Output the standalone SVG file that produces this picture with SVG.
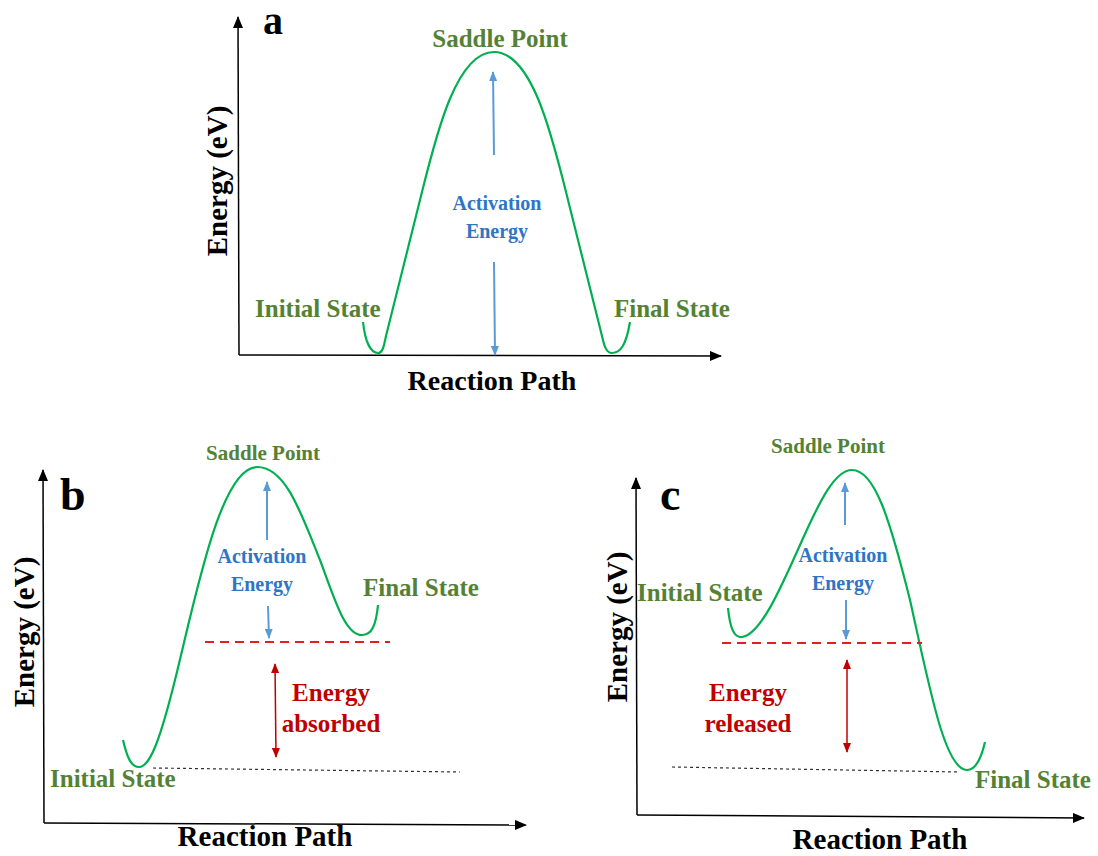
<svg xmlns="http://www.w3.org/2000/svg" width="1098" height="856" viewBox="0 0 1098 856">
<defs>
<style>
text{font-family:"Liberation Serif","Times New Roman",serif;font-weight:bold}
.g{fill:#548235}
.bl{fill:#2e75c6}
.rd{fill:#c00000}
.k{fill:#000}
.axis{stroke:#000;stroke-width:1.5;fill:none}
.curve{stroke:#00b050;stroke-width:2.2;fill:none}
.ba{stroke:#5b9bd5;stroke-width:2;fill:none}
.ra{stroke:#c00000;stroke-width:1.5;fill:none}
.rdash{stroke:#e02020;stroke-width:2;stroke-dasharray:9,6;fill:none}
.kdot{stroke:#333;stroke-width:1.2;stroke-dasharray:3,3;fill:none}
</style>
<marker id="ax" viewBox="0 0 12 10" refX="11" refY="5" markerWidth="12" markerHeight="10" markerUnits="userSpaceOnUse" orient="auto"><path d="M0,0 L12,5 L0,10 z" fill="#000"/></marker>
<marker id="bh" viewBox="0 0 10 8" refX="9" refY="4" markerWidth="10" markerHeight="8" markerUnits="userSpaceOnUse" orient="auto"><path d="M0,0 L10,4 L0,8 z" fill="#5b9bd5"/></marker>
<marker id="rh" viewBox="0 0 10 8" refX="9" refY="4" markerWidth="10" markerHeight="8" markerUnits="userSpaceOnUse" orient="auto-start-reverse"><path d="M0,0 L10,4 L0,8 z" fill="#c00000"/></marker>
</defs>

<g id="panel-a">
<line class="axis" x1="239" y1="355" x2="238" y2="17" marker-end="url(#ax)"/>
<line class="axis" x1="239" y1="355" x2="721" y2="356" marker-end="url(#ax)"/>
<text class="k" x="263" y="34" font-size="40">a</text>
<text class="k" transform="translate(227,181) rotate(-90)" text-anchor="middle" font-size="29">Energy (eV)</text>
<text class="k" x="492" y="390" text-anchor="middle" font-size="28">Reaction Path</text>
<path class="curve" d="M363,322 C365,340 370,353 378,353 C383,353 384,345 386,336 C395,300 405,260 420,200 C435,140 455,52 494,52 C533,52 553,140 568,200 C583,260 593,300 602,336 C604,345 606,353 612,353 C620,353 626,346 630,322"/>
<text class="g" x="500" y="47" text-anchor="middle" font-size="25">Saddle Point</text>
<text class="g" x="255" y="317" font-size="25">Initial State</text>
<text class="g" x="614" y="317" font-size="25">Final State</text>
<line class="ba" x1="494" y1="155" x2="493" y2="72" marker-end="url(#bh)"/>
<line class="ba" x1="494" y1="262" x2="495" y2="355" marker-end="url(#bh)"/>
<text class="bl" x="497" y="210" text-anchor="middle" font-size="20">Activation</text>
<text class="bl" x="497" y="238" text-anchor="middle" font-size="20">Energy</text>
</g>

<g id="panel-b">
<line class="axis" x1="44" y1="823" x2="43" y2="470" marker-end="url(#ax)"/>
<line class="axis" x1="44" y1="823" x2="526" y2="825" marker-end="url(#ax)"/>
<text class="k" x="60" y="510" font-size="46">b</text>
<text class="k" transform="translate(34,632) rotate(-90)" text-anchor="middle" font-size="29">Energy (eV)</text>
<text class="k" x="265" y="846" text-anchor="middle" font-size="29">Reaction Path</text>
<path class="curve" d="M123,740 C127,757 131,767 139,767 C150,767 160,740 175,680 C195,600 220,467 257,467 C285,467 300,510 320,560 C335,600 345,635 362,635 C372,635 376,625 378,605"/>
<text class="g" x="263" y="460" text-anchor="middle" font-size="21">Saddle Point</text>
<text class="g" x="363" y="596" font-size="25">Final State</text>
<text class="g" x="50" y="787" font-size="25">Initial State</text>
<line class="ba" x1="267" y1="540" x2="267" y2="482" marker-end="url(#bh)"/>
<line class="ba" x1="268" y1="606" x2="269" y2="638" marker-end="url(#bh)"/>
<text class="bl" x="262" y="563" text-anchor="middle" font-size="20">Activation</text>
<text class="bl" x="262" y="591" text-anchor="middle" font-size="20">Energy</text>
<line class="rdash" x1="205" y1="642" x2="390" y2="642"/>
<line class="ra" x1="275" y1="664" x2="276" y2="757" marker-start="url(#rh)" marker-end="url(#rh)"/>
<text class="rd" x="331" y="701" text-anchor="middle" font-size="25">Energy</text>
<text class="rd" x="331" y="732" text-anchor="middle" font-size="25">absorbed</text>
<line class="kdot" x1="153" y1="768" x2="460" y2="772"/>
</g>

<g id="panel-c">
<line class="axis" x1="637" y1="815" x2="636" y2="478" marker-end="url(#ax)"/>
<line class="axis" x1="637" y1="815" x2="1084" y2="818" marker-end="url(#ax)"/>
<text class="k" x="660" y="510" font-size="46">c</text>
<text class="k" transform="translate(627,627) rotate(-90)" text-anchor="middle" font-size="29">Energy (eV)</text>
<text class="k" x="880" y="849" text-anchor="middle" font-size="29">Reaction Path</text>
<path class="curve" d="M728,608 C730,628 734,638 742,637 C760,635 780,590 800,545 C820,500 835,470 852,470 C875,470 890,520 910,600 C930,690 945,770 967,770 C977,770 982,755 985,742"/>
<text class="g" x="828" y="453" text-anchor="middle" font-size="21">Saddle Point</text>
<text class="g" x="637" y="601" font-size="25">Initial State</text>
<text class="g" x="975" y="788" font-size="25">Final State</text>
<line class="ba" x1="845" y1="525" x2="845" y2="483" marker-end="url(#bh)"/>
<line class="ba" x1="846" y1="600" x2="846" y2="639" marker-end="url(#bh)"/>
<text class="bl" x="843" y="562" text-anchor="middle" font-size="20">Activation</text>
<text class="bl" x="843" y="590" text-anchor="middle" font-size="20">Energy</text>
<line class="rdash" x1="722" y1="643" x2="922" y2="643"/>
<line class="ra" x1="847" y1="660" x2="847" y2="752" marker-start="url(#rh)" marker-end="url(#rh)"/>
<text class="rd" x="748" y="701" text-anchor="middle" font-size="25">Energy</text>
<text class="rd" x="748" y="732" text-anchor="middle" font-size="25">released</text>
<line class="kdot" x1="672" y1="767" x2="960" y2="772"/>
</g>
</svg>
